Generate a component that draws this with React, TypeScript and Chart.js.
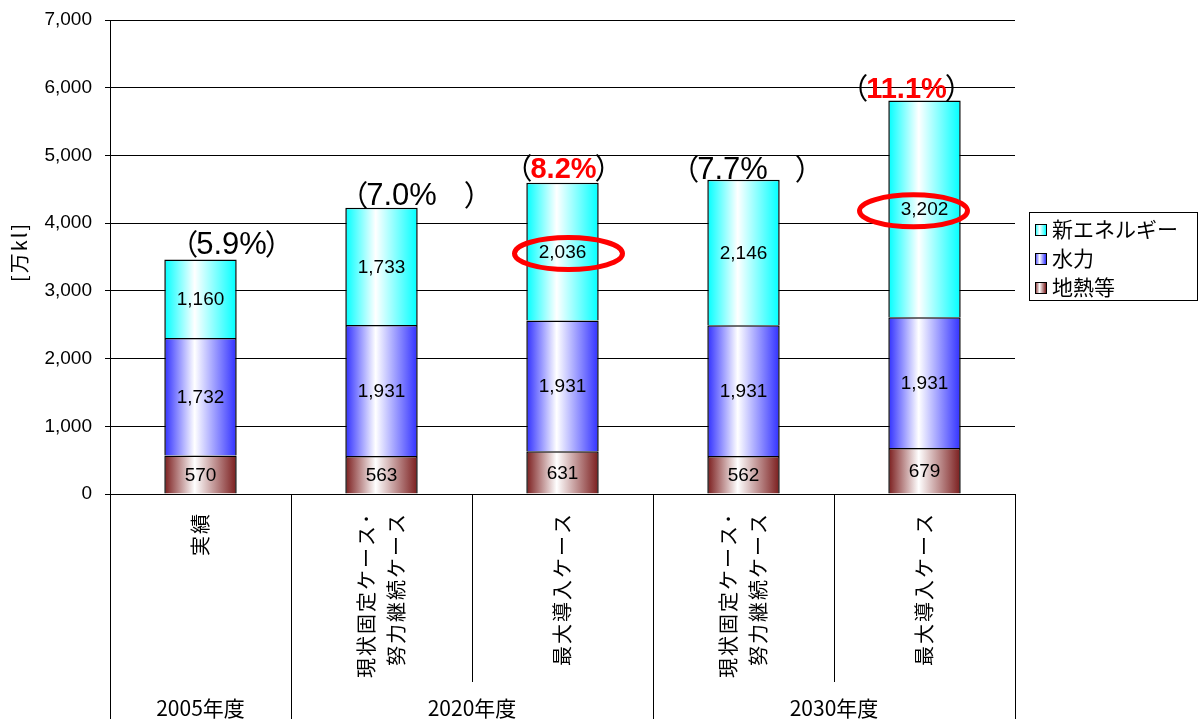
import React, { useEffect, useRef } from "react";
import { Chart, registerables } from "chart.js";

Chart.register(...registerables);

// ---- data ----
const categoryLines: string[][] = [
  ["実績"],
  ["現状固定ケース･", "努力継続ケース"],
  ["最大導入ケース"],
  ["現状固定ケース･", "努力継続ケース"],
  ["最大導入ケース"],
];
const groupLabels = ["2005年度", "2020年度", "2030年度"];
const groupSizes = [1, 2, 2];

const geothermal = [570, 563, 631, 562, 679];
const hydro = [1732, 1931, 1931, 1931, 1931];
const newEnergy = [1160, 1733, 2036, 2146, 3202];

const shareLabels = ["5.9%", "7.0%　", "8.2%", "7.7%　", "11.1%"];
const shareHighlight = [false, false, true, false, true];
const circledNewEnergy = [2, 4];

const seriesNames = ["地熱等", "水力", "新エネルギー"];
const yMax = 7000;
const yStep = 1000;
const yTitle = "[万kl]";

// ---- styles ----
const COLORS = ["#7a1c1c", "#3030ff", "#00ffff"];
const JP = '"Noto Sans CJK JP", sans-serif';
const LAT = '"Liberation Sans", "Noto Sans CJK JP", sans-serif';

function makeGrad(ctx: CanvasRenderingContext2D, x0: number, x1: number, color: string) {
  const g = ctx.createLinearGradient(x0, 0, x1, 0);
  g.addColorStop(0, color);
  g.addColorStop(0.42, "#ffffff");
  g.addColorStop(1, color);
  return g;
}

const BAR_PCT = 0.4;

function barFill(color: string) {
  return (c: any) => {
    const chart = c.chart;
    const xs = chart.scales?.x;
    if (!chart.chartArea || !xs || c.type !== "data") return color;
    const cx = xs.getPixelForValue(c.dataIndex);
    const w = (xs.width / categoryLines.length) * BAR_PCT;
    return makeGrad(chart.ctx, cx - w / 2, cx + w / 2, color);
  };
}

const fmt = (v: number) => v.toLocaleString("en-US");

const overlayPlugin = {
  id: "overlay",
  afterDatasetsDraw(chart: any) {
    const ctx: CanvasRenderingContext2D = chart.ctx;
    const xs = chart.scales.x;
    const ys = chart.scales.y;
    const area = chart.chartArea;

    // segment value labels
    ctx.save();
    ctx.font = `19px ${LAT}`;
    ctx.fillStyle = "#000";
    ctx.textAlign = "center";
    ctx.textBaseline = "middle";
    chart.data.datasets.forEach((ds: any, di: number) => {
      const meta = chart.getDatasetMeta(di);
      meta.data.forEach((el: any, i: number) => {
        const cy = (el.y + el.base) / 2;
        ctx.fillText(fmt(ds.data[i]), el.x, cy + 1);
      });
    });
    ctx.restore();

    // red ellipses
    const ellDx = [0, 0, 6, 0, -11];
    ctx.save();
    ctx.strokeStyle = "#ff0000";
    ctx.lineWidth = 5;
    const metaNE = chart.getDatasetMeta(2);
    circledNewEnergy.forEach((i) => {
      const el = metaNE.data[i];
      const cy = (el.y + el.base) / 2 + 2;
      ctx.beginPath();
      ctx.ellipse(el.x + ellDx[i], cy, 54, 16, 0, 0, Math.PI * 2);
      ctx.stroke();
    });
    ctx.restore();

    // share labels above bars
    const sDx = [31, 20, 1, -11, -18];
    const sDy = [6, 3, 5, 1, 2];
    ctx.save();
    shareLabels.forEach((lab, i) => {
      const total = geothermal[i] + hydro[i] + newEnergy[i];
      const top = ys.getPixelForValue(total);
      const cx = xs.getPixelForValue(i) + sDx[i];
      const by = top - sDy[i];
      const val = lab.replace(/　+$/, "");
      const gap = lab.slice(val.length);
      const hl = shareHighlight[i];
      ctx.font = hl ? `bold 29px ${LAT}` : `31px ${LAT}`;
      const vw = ctx.measureText(val).width;
      const vx = cx - vw / 2;
      ctx.textBaseline = "alphabetic";
      ctx.textAlign = "left";
      ctx.fillStyle = hl ? "#ff0000" : "#000";
      ctx.fillText(val, vx, by);
      ctx.font = `29px ${JP}`;
      ctx.fillStyle = "#000";
      ctx.textAlign = "right";
      ctx.fillText("（", vx + 2, by + 1);
      ctx.textAlign = "left";
      ctx.fillText(gap + "）", vx + vw - 2, by + 1);
    });
    ctx.restore();

    // category labels & separators below the axis
    ctx.save();
    const step = xs.width / categoryLines.length;
    const bottom = chart.height;
    ctx.strokeStyle = "#000";
    ctx.lineWidth = 1;
    let idx = 0;
    const groupStarts: number[] = [];
    groupSizes.forEach((n) => {
      groupStarts.push(idx);
      idx += n;
    });
    for (let b = 0; b <= categoryLines.length; b++) {
      const x = Math.round(area.left + b * step) + 0.5;
      const isGroup = b === categoryLines.length || groupStarts.includes(b);
      ctx.beginPath();
      ctx.moveTo(x, area.bottom);
      ctx.lineTo(x, isGroup ? bottom : area.bottom + 188);
      ctx.stroke();
    }
    ctx.fillStyle = "#000";
    ctx.font = `20px ${JP}`;
    (ctx as any).letterSpacing = "2px";
    categoryLines.forEach((lines, i) => {
      const cx = xs.getPixelForValue(i);
      const n = lines.length;
      lines.forEach((line, li) => {
        const off = (li - (n - 1) / 2) * 30;
        ctx.save();
        ctx.translate(cx + off, area.bottom + 18);
        ctx.rotate(-Math.PI / 2);
        ctx.textAlign = "right";
        ctx.textBaseline = "middle";
        ctx.fillText(line, 0, 0);
        ctx.restore();
      });
    });
    (ctx as any).letterSpacing = "0px";
    ctx.font = `21px ${JP}`;
    ctx.textAlign = "center";
    ctx.textBaseline = "middle";
    groupSizes.forEach((n, g) => {
      const s = groupStarts[g];
      const x0 = xs.getPixelForValue(s);
      const x1 = xs.getPixelForValue(s + n - 1);
      ctx.fillText(groupLabels[g], (x0 + x1) / 2, bottom - 11);
    });
    ctx.restore();

    // y title
    ctx.save();
    ctx.translate(19, (area.top + area.bottom) / 2 - 5);
    ctx.rotate(-Math.PI / 2);
    ctx.font = `20px ${JP}`;
    (ctx as any).letterSpacing = "2px";
    ctx.fillStyle = "#000";
    ctx.textAlign = "center";
    ctx.textBaseline = "middle";
    ctx.fillText(yTitle, 0, 0);
    (ctx as any).letterSpacing = "0px";
    ctx.restore();

    // legend
    ctx.save();
    const lx = area.right + 14;
    const ly = 212;
    const lw = 168;
    const lh = 88;
    ctx.fillStyle = "#fff";
    ctx.fillRect(lx, ly, lw, lh);
    ctx.strokeStyle = "#000";
    ctx.lineWidth = 1;
    ctx.strokeRect(lx + 0.5, ly + 0.5, lw, lh);
    ctx.font = `21px ${JP}`;
    ctx.textAlign = "left";
    ctx.textBaseline = "middle";
    for (let k = 0; k < seriesNames.length; k++) {
      const si = seriesNames.length - 1 - k;
      const cy = ly + 17 + k * 29;
      const mx = lx + 6;
      ctx.fillStyle = makeGrad(ctx, mx, mx + 11, COLORS[si]);
      ctx.fillRect(mx, cy - 5, 11, 11);
      ctx.strokeStyle = "#000";
      ctx.strokeRect(mx + 0.5, cy - 5 + 0.5, 11, 11);
      ctx.fillStyle = "#000";
      ctx.fillText(seriesNames[si], mx + 17, cy);
    }
    ctx.restore();
  },
};

export default function App() {
  const ref = useRef<HTMLCanvasElement | null>(null);
  useEffect(() => {
    if (!ref.current) return;
    const chart = new Chart(ref.current, {
      type: "bar",
      data: {
        labels: categoryLines.map((l) => l.join("")),
        datasets: [geothermal, hydro, newEnergy].map((d, i) => ({
          label: seriesNames[i],
          data: d,
          backgroundColor: barFill(COLORS[i]),
          borderColor: "#000",
          borderWidth: 1.5,
          barPercentage: BAR_PCT,
          categoryPercentage: 1,
        })),
      },
      options: {
        responsive: false,
        animation: false,
        devicePixelRatio: 1,
        layout: { padding: { left: 0, top: 8, right: 186, bottom: 0 } },
        plugins: { legend: { display: false }, tooltip: { enabled: false } },
        scales: {
          x: {
            stacked: true,
            ticks: { display: false },
            grid: { display: false },
            border: { display: true, color: "#000", width: 1 },
            afterFit: (s: any) => {
              s.height = 225;
            },
          },
          y: {
            stacked: true,
            min: 0,
            max: yMax,
            ticks: {
              stepSize: yStep,
              color: "#000",
              padding: 13,
              font: { size: 19, family: LAT },
              callback: (v: any) => fmt(Number(v)),
            },
            grid: { color: "#000", lineWidth: 1, tickLength: 5 },
            border: { display: true, color: "#000", width: 1 },
            afterFit: (s: any) => {
              s.width = 110;
              s.paddingTop = 20;
            },
          },
        },
      },
      plugins: [overlayPlugin],
    });
    return () => chart.destroy();
  }, []);
  return (
    <div style={{ position: "absolute", left: 0, top: 0, width: 1201, height: 719, background: "#fff" }}>
      <canvas ref={ref} width={1201} height={719} style={{ display: "block" }} />
    </div>
  );
}
